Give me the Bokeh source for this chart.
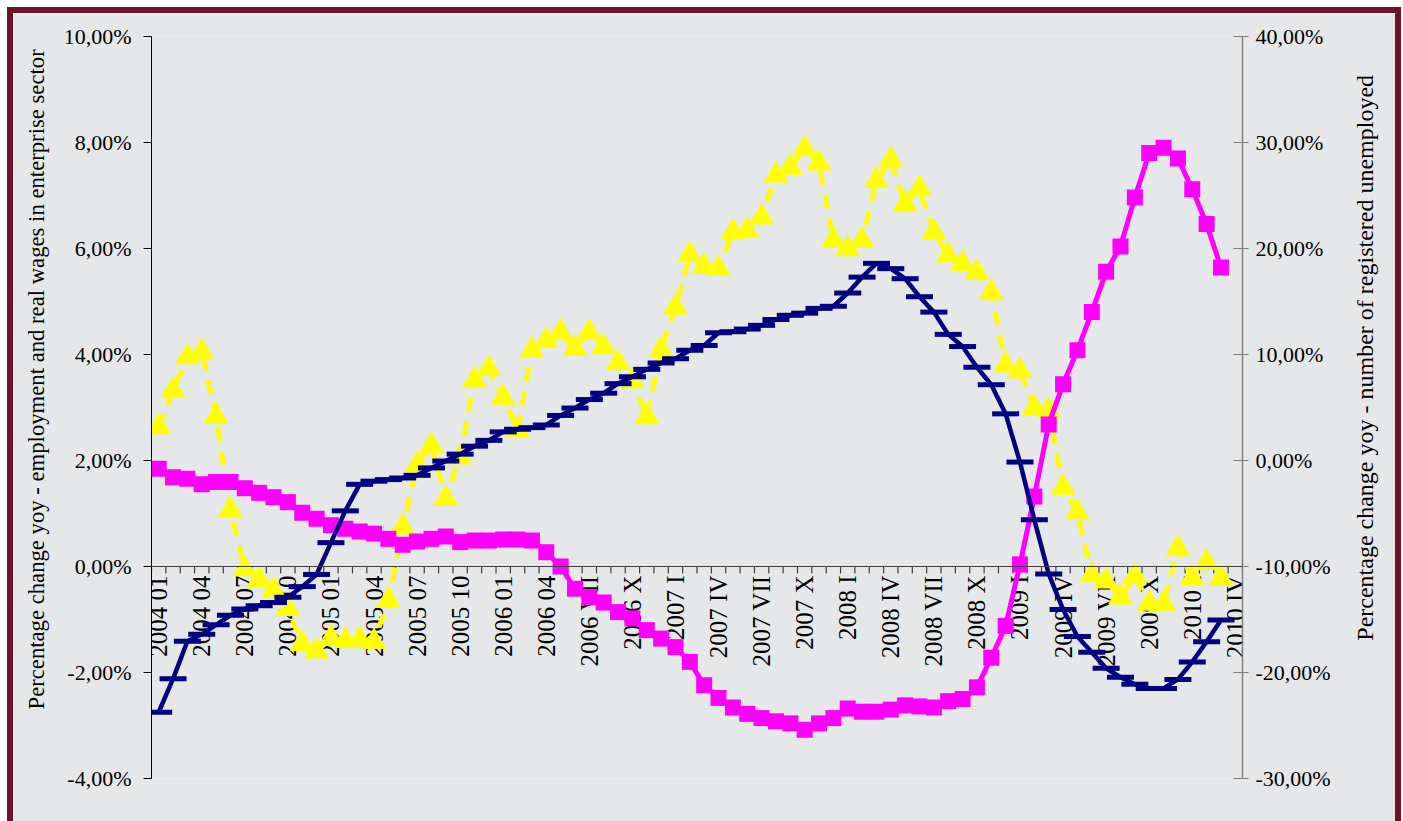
import math
from bokeh.plotting import figure
from bokeh.models import Range1d, LinearAxis, FixedTicker, CustomJSTickFormatter, Span
from bokeh.embed import file_html
from bokeh.resources import INLINE
from bokeh.core.properties import value

# ---------------- data ----------------
# monthly observations 2004 01 ... 2010 03; the axis has one more (empty) category, 2010 IV
tick_labels = ["2004 01", "2004 04", "2004 07", "2004 10", "2005 01", "2005 04", "2005 07", "2005 10",
               "2006 01", "2006 04", "2006 VII", "2006 X", "2007 I", "2007 IV", "2007 VII", "2007 X",
               "2008 I", "2008 IV", "2008 VII", "2008 X", "2009 I", "2009 IV", "2009 VII", "2009 X",
               "2010 I", "2010 IV"]

# employment, % yoy (left axis)
employment = [-2.75, -2.12, -1.41, -1.28, -1.10, -0.92, -0.80, -0.74, -0.68, -0.58,
              -0.38, -0.15, 0.45, 1.05, 1.55, 1.61, 1.64, 1.67, 1.72, 1.86,
              1.99, 2.12, 2.27, 2.38, 2.54, 2.59, 2.62, 2.67, 2.85, 2.99,
              3.15, 3.27, 3.45, 3.58, 3.72, 3.84, 3.92, 4.08, 4.17, 4.41,
              4.43, 4.48, 4.55, 4.66, 4.74, 4.78, 4.87, 4.91, 5.16, 5.46,
              5.72, 5.62, 5.43, 5.09, 4.80, 4.38, 4.15, 3.76, 3.43, 2.88,
              1.97, 0.88, -0.14, -0.81, -1.32, -1.62, -1.92, -2.09, -2.22, -2.30,
              -2.30, -2.13, -1.80, -1.42, -1.01]

# real wages, % yoy (left axis)
real_wages = [2.63, 3.32, 3.95, 4.05, 2.83, 1.06, -0.05, -0.25, -0.45, -0.80,
              -1.46, -1.60, -1.35, -1.40, -1.38, -1.42, -0.64, 0.74, 1.91, 2.28,
              1.28, 2.06, 3.52, 3.73, 3.19, 2.57, 4.08, 4.26, 4.42, 4.11,
              4.42, 4.14, 3.84, 3.50, 2.82, 4.09, 4.89, 5.88, 5.66, 5.62,
              6.31, 6.34, 6.59, 7.38, 7.53, 7.88, 7.61, 6.15, 5.99, 6.15,
              7.28, 7.66, 6.84, 7.13, 6.31, 5.87, 5.71, 5.55, 5.17, 3.80,
              3.69, 2.99, 2.94, 1.49, 1.02, -0.16, -0.28, -0.58, -0.18, -0.70,
              -0.70, 0.34, -0.22, 0.07, -0.22]

# registered unemployed, % yoy (right axis)
unemployed = [-0.79, -1.57, -1.73, -2.25, -2.04, -2.04, -2.62, -3.05, -3.46, -3.93,
              -4.93, -5.50, -6.10, -6.44, -6.70, -6.90, -7.39, -7.95, -7.64, -7.39,
              -7.17, -7.70, -7.55, -7.55, -7.45, -7.45, -7.55, -8.65, -10.0, -12.1,
              -12.9, -13.4, -14.3, -14.9, -16.0, -16.8, -17.6, -19.0, -21.2, -22.4,
              -23.3, -23.9, -24.3, -24.6, -24.8, -25.4, -24.8, -24.3, -23.4, -23.7,
              -23.7, -23.5, -23.1, -23.2, -23.3, -22.7, -22.5, -21.4, -18.6, -15.6,
              -9.8, -3.4, 3.4, 7.2, 10.4, 14.0, 17.8, 20.2, 24.8, 29.0,
              29.5, 28.5, 25.6, 22.3, 18.2]

left_ticks = [-4, -2, 0, 2, 4, 6, 8, 10]
right_ticks = [-30, -20, -10, 0, 10, 20, 30, 40]

left_title = "Percentage change yoy - employment and real wages in enterprise sector"
right_title = "Percentage change yoy - number of registered unemployed"

# ---------------- figure ----------------
n = len(employment)
n_cat = 3 * (len(tick_labels) - 1) + 1
xs = list(range(n))

FONT = "Liberation Serif"
BG = "#E6E7E9"
NAVY = "#000080"
MAGENTA = "#FF00FF"
YELLOW = "#FFFF00"

p = figure(width=1382, height=808,
           x_range=Range1d(-0.5, n_cat - 0.5), y_range=Range1d(left_ticks[0], left_ticks[-1]),
           x_axis_location=None, toolbar_location=None, output_backend="svg",
           min_border_left=138, min_border_right=153, min_border_top=23, min_border_bottom=43)
p.margin = (13, 0, 0, 13)
p.styles = {"outline": "6px solid #6E1426"}
p.background_fill_color = BG
p.border_fill_color = BG
p.outline_line_color = None
p.grid.visible = False
p.extra_y_ranges = {"right": Range1d(right_ticks[0], right_ticks[-1])}

fmt = CustomJSTickFormatter(code="return tick.toFixed(2).replace('.', ',') + '%';")


def style_ticks(ax, size="22px"):
    ax.minor_tick_out = 0
    ax.minor_tick_in = 0
    ax.major_label_text_font = FONT
    ax.major_label_text_font_size = size
    ax.major_label_text_color = "black"


ya = p.yaxis[0]
ya.ticker = FixedTicker(ticks=left_ticks)
ya.formatter = fmt
ya.major_tick_out = 8
ya.major_tick_in = 0
ya.axis_line_color = "black"
ya.major_tick_line_color = "black"
ya.major_label_standoff = 12
style_ticks(ya)

# left title: a tick-less axis whose single label is the title (centred, reading upwards)
lt = LinearAxis(ticker=FixedTicker(ticks=[3.53]),
                formatter=CustomJSTickFormatter(args=dict(t=left_title), code="return t;"))
lt.axis_line_color = None
lt.major_tick_line_color = None
lt.major_tick_out = 0
lt.major_tick_in = 0
lt.major_label_orientation = "vertical"
lt.major_label_standoff = 11
style_ticks(lt, "22.7px")
p.add_layout(lt, "left")

ra = LinearAxis(y_range_name="right", ticker=FixedTicker(ticks=right_ticks), formatter=fmt)
ra.major_tick_out = 6
ra.major_tick_in = 9
ra.axis_line_color = "#7f7f7f"
ra.axis_line_width = 1.5
ra.major_tick_line_color = "#7f7f7f"
ra.major_label_standoff = 7
style_ticks(ra)
p.add_layout(ra, "right")

# right title: label starts at its tick and reads upwards
rt = LinearAxis(y_range_name="right", ticker=FixedTicker(ticks=[-17.0]),
                formatter=CustomJSTickFormatter(args=dict(t=right_title), code="return t;"))
rt.axis_line_color = None
rt.major_tick_line_color = None
rt.major_tick_out = 0
rt.major_tick_in = 0
rt.major_label_orientation = math.pi / 2
rt.major_label_standoff = 32
style_ticks(rt, "24px")
p.add_layout(rt, "right")

# category axis drawn at zero
p.add_layout(Span(location=0, dimension="width", line_color="#404040", line_width=1.2))
bounds = [i - 0.5 for i in range(n_cat + 1)]
p.ray(x=bounds, y=[0] * len(bounds), length=7, length_units="screen", angle=-math.pi / 2,
      line_color="#404040", line_width=1.2)
label_x = [3 * k for k in range(len(tick_labels))]
p.text(x=label_x, y=[0] * len(label_x), text=tick_labels, angle=math.pi / 2,
       text_align="right", text_baseline="middle", y_offset=9,
       text_font=value(FONT), text_font_size="25px", text_color="black")

# series
p.line(xs, real_wages, line_color=YELLOW, line_width=5, line_dash="14 10")
p.scatter(xs, real_wages, marker="triangle", size=25, fill_color=YELLOW, line_color=None)

p.line(xs, unemployed, y_range_name="right", line_color=MAGENTA, line_width=5)
p.scatter(xs, unemployed, y_range_name="right", marker="square", size=16, fill_color=MAGENTA, line_color=None)

p.line(xs, employment, line_color=NAVY, line_width=4.5)
p.scatter(xs, employment, marker="dash", size=27, line_color=NAVY, line_width=5)

open("out.html", "w").write(file_html(p, INLINE))
